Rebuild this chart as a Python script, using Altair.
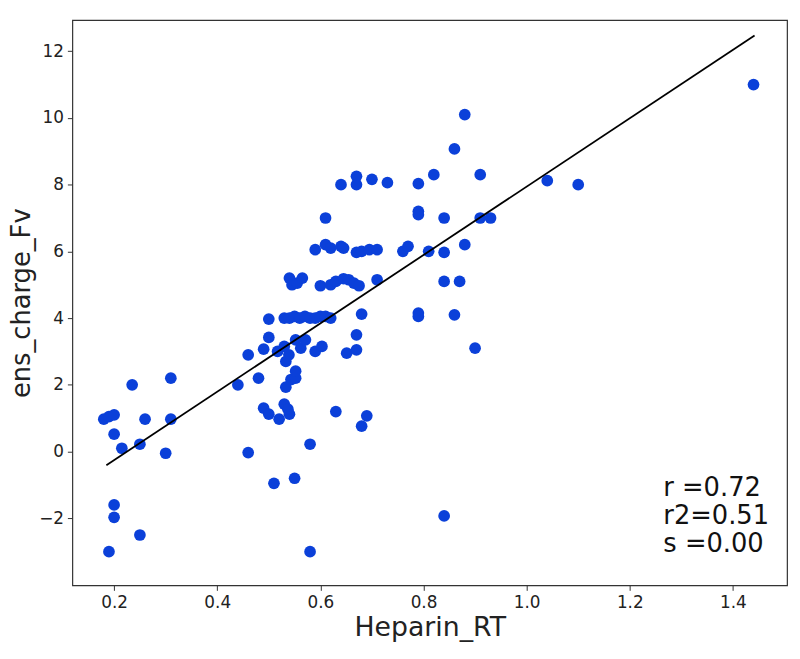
import altair as alt
import pandas as pd

heparin_rt = [
    0.235, 0.31, 0.18, 0.19, 0.20, 0.26, 0.31, 0.20, 0.215, 0.25, 0.30, 0.46,
    0.44, 0.48, 0.49, 0.50, 0.52, 0.53, 0.54, 0.533, 0.543, 0.552, 0.552,
    0.51, 0.55, 0.20, 0.20, 0.25, 0.19,
    0.537, 0.63, 0.69, 0.68, 0.58, 0.58,
    0.46, 0.49, 0.50, 0.517, 0.530, 0.539, 0.552, 0.562, 0.571, 0.533,
    0.59, 0.603, 0.651, 0.67, 0.67,
    0.50, 0.53, 0.54, 0.55, 0.56, 0.57, 0.58, 0.59, 0.60, 0.61, 0.62, 0.68, 0.79, 0.79,
    0.86, 0.90, 0.84,
    0.54, 0.545, 0.555, 0.565, 0.60, 0.62, 0.63, 0.645, 0.655, 0.665, 0.675, 0.71,
    0.84, 0.87,
    0.59, 0.61, 0.62, 0.64, 0.645, 0.67, 0.68, 0.695, 0.71, 0.76, 0.77, 0.81, 0.84, 0.88,
    0.61, 0.79, 0.79, 0.84, 0.91, 0.93,
    0.64, 0.67, 0.67, 0.70, 0.73, 0.79, 0.82, 0.91, 1.04, 1.10,
    0.86, 0.88, 1.44,
]
ens_charge_fv = [
    2.0, 2.2, 0.97, 1.05, 1.1, 0.97, 0.97, 0.52, 0.1, 0.22, -0.05, -0.03,
    2.0, 2.2, 1.3, 1.12, 0.97, 1.42, 1.12, 1.93, 2.16, 2.2, 2.41,
    -0.95, -0.8, -1.6, -1.97, -2.5, -3.0,
    1.27, 1.2, 1.07, 0.76, 0.22, -3.0,
    2.9, 3.07, 3.42, 3.0, 3.15, 2.9, 3.35, 3.1, 3.35, 2.7,
    3.0, 3.15, 2.95, 3.05, 3.5,
    3.97, 4.0, 4.0, 4.05, 4.0, 4.05, 4.0, 4.0, 4.05, 4.05, 4.0, 4.12, 4.15, 4.05,
    4.1, 3.1, -1.93,
    5.2, 5.0, 5.05, 5.2, 4.97, 5.0, 5.1, 5.18, 5.15, 5.05, 4.97, 5.15,
    5.1, 5.1,
    6.05, 6.2, 6.1, 6.15, 6.1, 5.97, 6.0, 6.05, 6.05, 6.0, 6.15, 6.0, 5.97, 6.2,
    7.0, 7.2, 7.1, 7.0, 7.0, 7.0,
    8.0, 8.25, 8.0, 8.16, 8.06, 8.03, 8.3, 8.3, 8.12, 8.0,
    9.07, 10.1, 11.0,
]

fit_x = [0.185, 1.442]
fit_y = [-0.41, 12.47]

stats_lines = ["r =0.72", "r2=0.51", "s =0.00"]

x_ticks = [0.2, 0.4, 0.6, 0.8, 1.0, 1.2, 1.4]
y_ticks = [-2, 0, 2, 4, 6, 8, 10, 12]

pts = pd.DataFrame({"Heparin_RT": heparin_rt, "ens_charge_Fv": ens_charge_fv})
fit = pd.DataFrame({"Heparin_RT": fit_x, "ens_charge_Fv": fit_y})
txt = pd.DataFrame({"label": stats_lines, "row": [0, 1, 2]})

xscale = alt.Scale(domain=[0.119, 1.505], nice=False, zero=False)
yscale = alt.Scale(domain=[-4.01, 12.93], nice=False, zero=False)

xaxis = alt.Axis(values=x_ticks, format=".1f", title="Heparin_RT", grid=False,
                 domain=False, tickSize=5, tickColor="#333", labelFontSize=17,
                 labelColor="#222", labelPadding=4, titleFontSize=27,
                 titleFontWeight="normal", titleColor="#222", titlePadding=5,
                 labelFont="DejaVu Sans", titleFont="DejaVu Sans")
yaxis = alt.Axis(values=y_ticks, format="d", title="ens_charge_Fv", grid=False,
                 domain=False, tickSize=5, tickColor="#333", labelFontSize=17,
                 labelColor="#222", labelPadding=4, titleFontSize=26,
                 titleFontWeight="normal", titleColor="#222", titlePadding=4,
                 labelFont="DejaVu Sans", titleFont="DejaVu Sans")

points = alt.Chart(pts).mark_circle(size=140, color="#0b40d9", opacity=1).encode(
    x=alt.X("Heparin_RT:Q", scale=xscale, axis=xaxis),
    y=alt.Y("ens_charge_Fv:Q", scale=yscale, axis=yaxis),
)

line = alt.Chart(fit).mark_line(color="black", strokeWidth=1.8).encode(
    x=alt.X("Heparin_RT:Q", scale=xscale, axis=xaxis),
    y=alt.Y("ens_charge_Fv:Q", scale=yscale, axis=yaxis),
)

text = alt.Chart(txt).mark_text(
    align="left", baseline="alphabetic", fontSize=26, font="DejaVu Sans", color="#111"
).encode(
    x=alt.value(597),
    y=alt.Y("row:Q", scale=alt.Scale(domain=[0, 2], range=[481, 537]), axis=None),
    text="label:N",
)

chart = alt.layer(alt.layer(points, line), text).resolve_scale(y="independent").properties(
    width=722, height=571,
    padding={"left": 65, "top": 9, "right": 5, "bottom": 60},
    autosize=alt.AutoSizeParams(type="none"),
).configure(background="white").configure_view(stroke="#333", strokeWidth=1.2)

chart.save("out.html", embed_options={"renderer": "svg", "actions": False})
